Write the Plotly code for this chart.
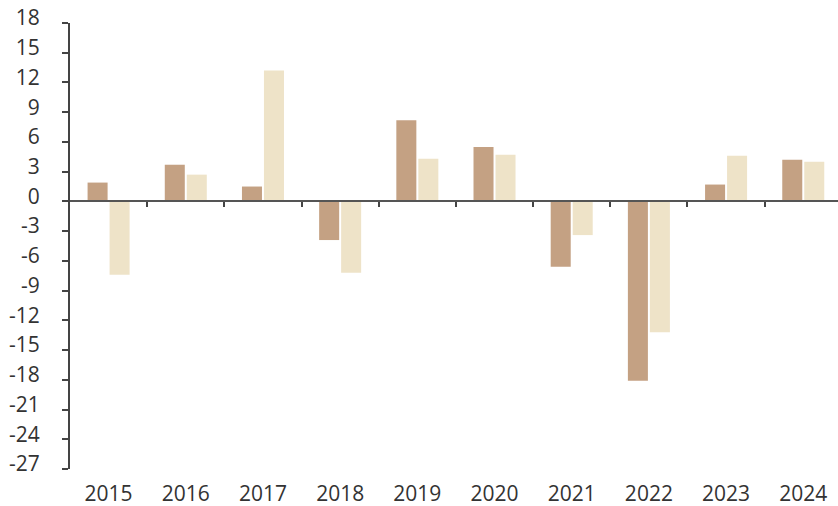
import plotly.graph_objects as go

years = ["2015", "2016", "2017", "2018", "2019", "2020", "2021", "2022", "2023", "2024"]
series_a = [1.9, 3.7, 1.5, -3.9, 8.2, 5.5, -6.6, -18.1, 1.7, 4.2]
series_b = [-7.4, 2.7, 13.2, -7.2, 4.3, 4.7, -3.4, -13.2, 4.6, 4.0]
y_ticks = list(range(-27, 19, 3))
y_tick_labels = [str(v) for v in y_ticks]

x_pos = list(range(len(years)))
boundaries = [i + 0.5 for i in range(len(years) - 1)]

fig = go.Figure()
fig.add_trace(go.Bar(x=x_pos, y=series_a, marker=dict(color="#C4A183", line=dict(width=0)), name="A"))
fig.add_trace(go.Bar(x=x_pos, y=series_b, marker=dict(color="#EEE3C8", line=dict(width=0)), name="B"))
# helper trace so the zero-line axis (x2) is drawn
fig.add_trace(go.Scatter(x=[], y=[], xaxis="x2", yaxis="y", showlegend=False, hoverinfo="skip"))

font = dict(family="Open Sans", size=21, color="#333333")
xr = [-0.5, 9.45]
yr = [-27, 18]

fig.update_layout(
    width=838, height=506,
    margin=dict(l=70, r=0, t=23, b=37),
    plot_bgcolor="white", paper_bgcolor="white",
    showlegend=False,
    barmode="group", bargap=0.43, bargroupgap=0.09,
    font=font,
    xaxis=dict(
        range=xr, tickmode="array", tickvals=x_pos, ticktext=years,
        showline=False, showgrid=False, zeroline=False, ticks="",
        ticklabelstandoff=10, tickfont=font, automargin=False,
    ),
    xaxis2=dict(
        range=xr, overlaying="x", anchor="free", position=27 / 45,
        tickmode="array", tickvals=boundaries, showticklabels=False,
        showline=True, linecolor="#555555", linewidth=2,
        ticks="outside", ticklen=5, tickwidth=2, tickcolor="#444444",
        showgrid=False, zeroline=False, automargin=False,
    ),
    yaxis=dict(
        range=yr, tickmode="array", tickvals=y_ticks, ticktext=y_tick_labels,
        showline=True, linecolor="#444444", linewidth=2,
        ticks="outside", ticklen=6, tickwidth=2, tickcolor="#444444",
        showgrid=False, zeroline=False, automargin=False,
        ticklabelstandoff=18, ticklabelshift=-5, tickfont=font,
    ),
)

fig.write_html("out.html", config={"displayModeBar": False},
               post_script="document.body.style.margin='0';")
